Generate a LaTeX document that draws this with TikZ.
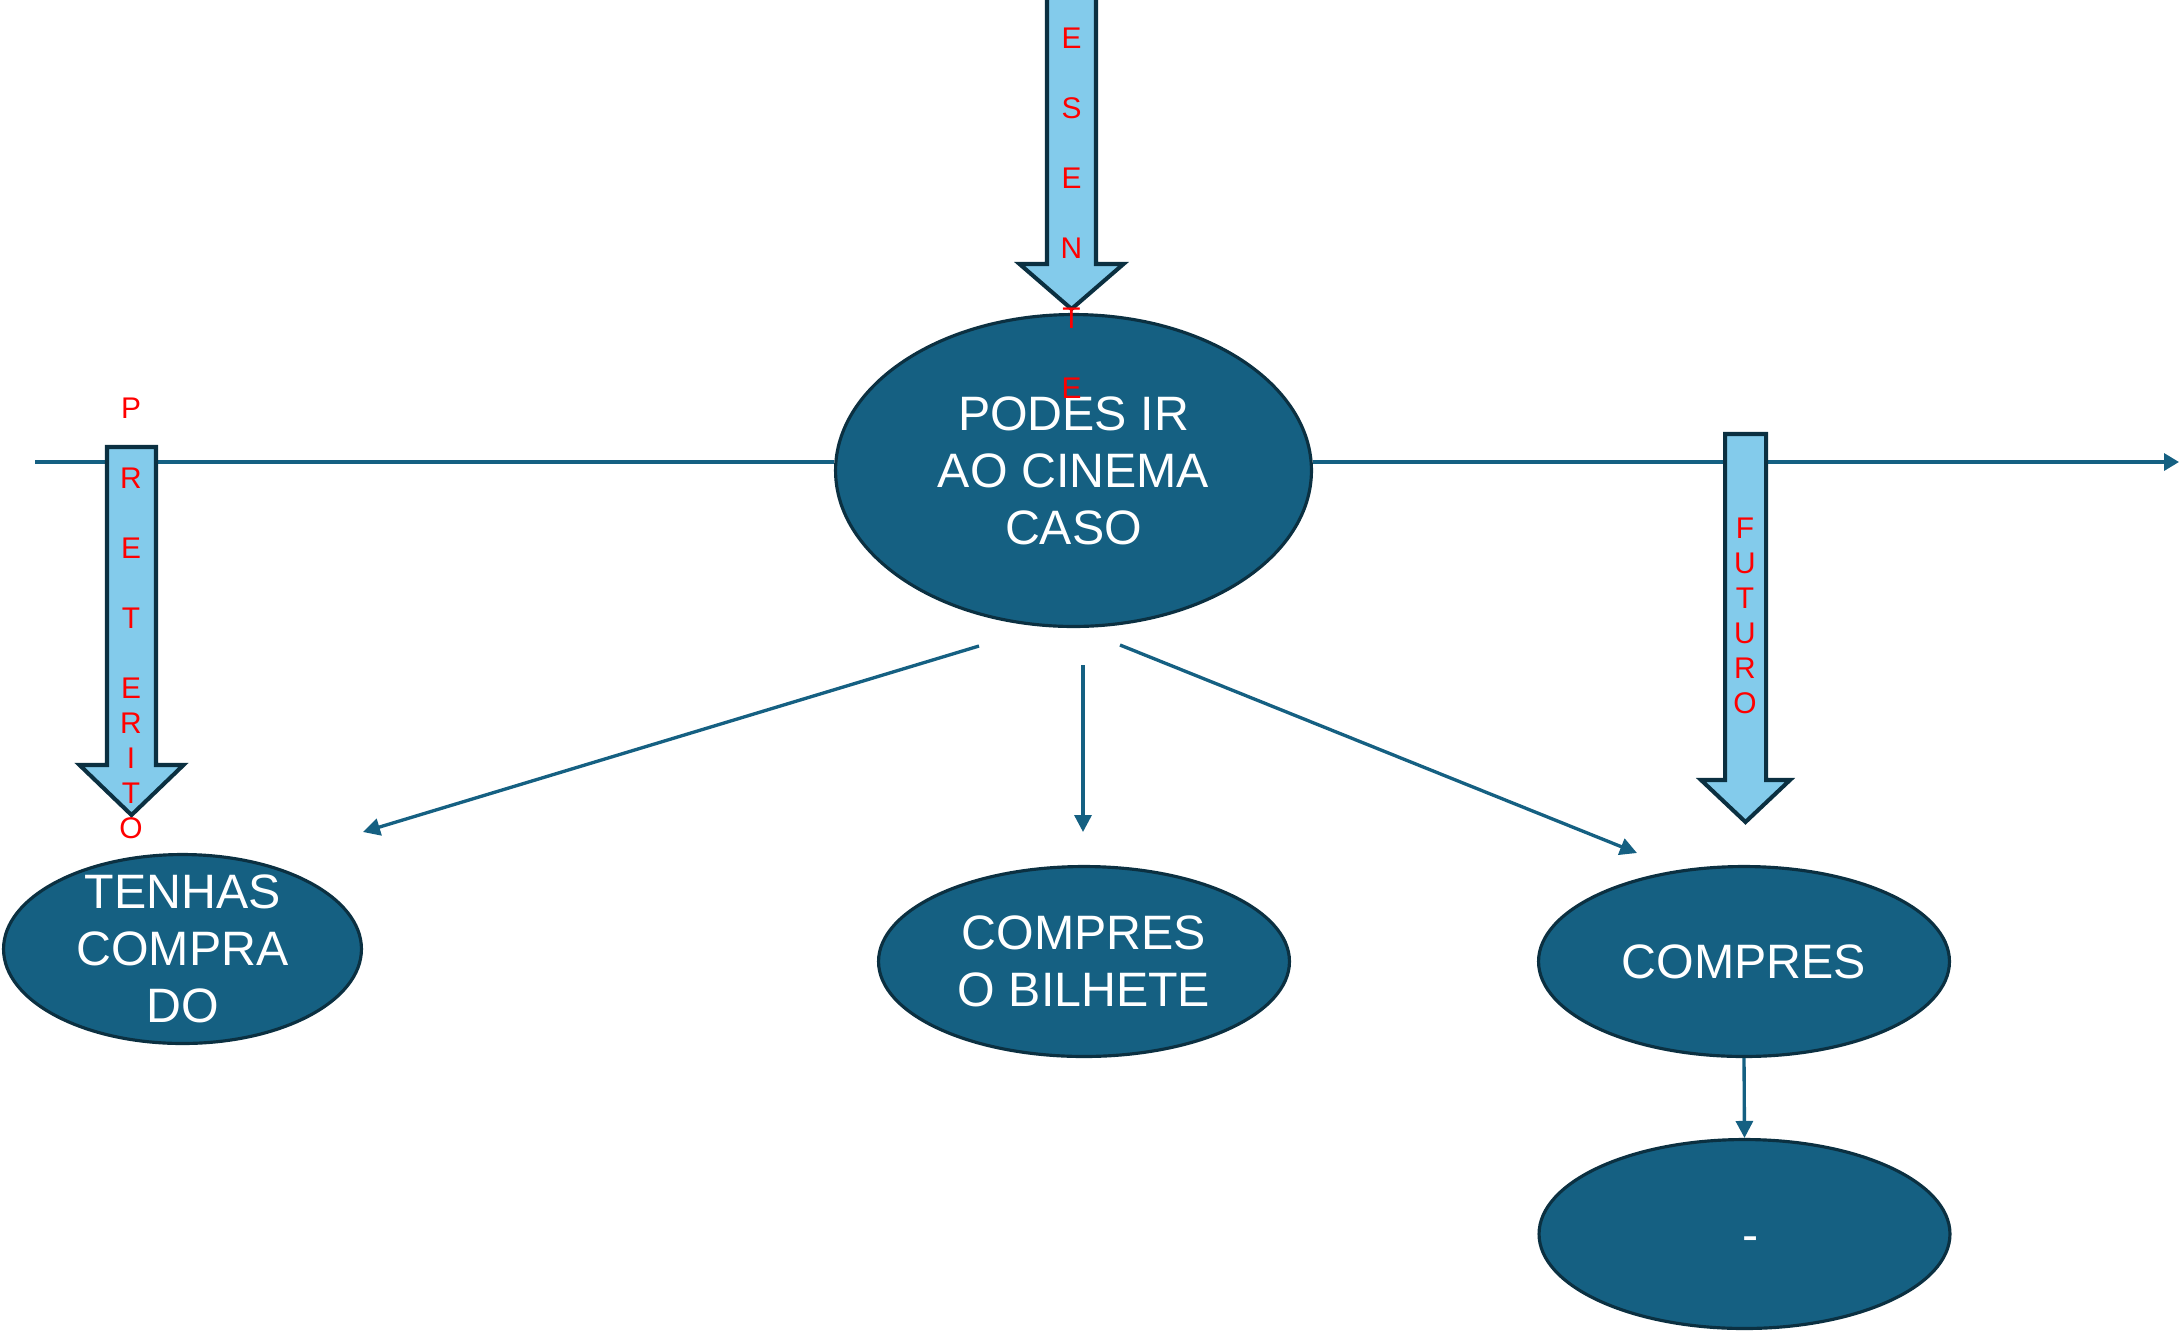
\documentclass[tikz,border=0pt]{standalone}
\usepackage{fontspec}
\setmainfont{Liberation Sans}
\usepackage{tikz}
\usetikzlibrary{arrows.meta,shapes.geometric}

\definecolor{bubblefill}{HTML}{156082}
\definecolor{bubbleline}{HTML}{0B3041}
\definecolor{timefill}{HTML}{83CBEB}
\definecolor{timered}{HTML}{FF0000}

\tikzset{
  bubble/.style={draw=bubbleline, line width=1.8pt, fill=bubblefill, ellipse, inner sep=0pt},
  bubbletext/.style={text=white, font=\fontsize{27.5}{32.4}\selectfont, align=center, inner sep=0pt},
  timeline/.style={draw=bubblefill, line width=1.9pt},
  link/.style={draw=bubblefill, line width=1.9pt, -{Triangle[length=0.34cm,width=0.34cm]}},
  timearrow/.style={draw=bubbleline, line width=2.3pt, fill=timefill, line join=miter},
  letter/.style={text=timered, font=\fontsize{17}{20}\selectfont, inner sep=0pt},
}

\begin{document}
\begin{tikzpicture}[x=0.02cm, y=-0.02cm]
\useasboundingbox (0,0) rectangle (2183,1333);

% Nodes
\node[bubble, minimum width=9.52cm, minimum height=6.24cm,
  label={[bubbletext]center:PODES IR\\AO CINEMA\\CASO}] (main) at (1073.5,470.5) {};
\node[bubble, minimum width=7.16cm, minimum height=3.78cm,
  label={[bubbletext]center:TENHAS\\COMPRA\\DO}] (tenhas) at (182.5,949) {};
\node[bubble, minimum width=8.22cm, minimum height=3.8cm,
  label={[bubbletext]center:COMPRES\\O BILHETE}] (bilhete) at (1084,961.5) {};
\node[bubble, minimum width=8.22cm, minimum height=3.8cm,
  label={[bubbletext]center:COMPRES}] (compres) at (1744,961.5) {};
\node[bubble, minimum width=8.22cm, minimum height=3.78cm,
  label={[bubbletext, xshift=0.13cm, yshift=-0.2cm]center:-}] (dash) at (1744.5,1234) {};

% Time line
\coordinate (lineL) at (35,462);
\coordinate (lineR) at (2179,462);
\draw[timeline] (lineL) -- (lineL -| main.west);
\draw[timeline, -{Triangle[length=0.3cm,width=0.34cm]}] (main.east |- lineR) -- (lineR);

% Arrows
\coordinate (toTenhasA) at (979,646);
\coordinate (toTenhasB) at (363,832);
\coordinate (toBilheteA) at (1083,665);
\coordinate (toBilheteB) at (1083,832);
\coordinate (toCompresA) at (1120,645);
\coordinate (toCompresB) at (1637,853);
\draw[link] (toTenhasA) -- (toTenhasB);
\draw[link] (toBilheteA) -- (toBilheteB);
\draw[link] (toCompresA) -- (toCompresB);
\draw[link] (compres.south) -- (dash.north);

% Block arrows
\draw[timearrow] (1047,-10) -- (1047,264) -- (1019.5,264) -- (1071.5,309)
  -- (1123.5,264) -- (1096,264) -- (1096,-10);
\draw[timearrow] (107,447) -- (107,765) -- (79.5,765) -- (131.5,815)
  -- (183.5,765) -- (156,765) -- (156,447) -- cycle;
\draw[timearrow] (1725,434) -- (1725,780) -- (1701,780) -- (1745.5,822)
  -- (1790,780) -- (1766,780) -- (1766,434) -- cycle;

% Letters
\foreach \ch/\yy [count=\i] in {E/38, S/108, E/178, N/248, T/318, E/388}
  \node[letter] (pres\i) at (1071.5,\yy) {\ch};
\foreach \ch/\yy [count=\i] in {P/408, R/478, E/548, T/618, E/688, R/723, I/758, T/793, O/828}
  \node[letter] (pret\i) at (131,\yy) {\ch};
\foreach \ch/\yy [count=\i] in {F/528, U/563, T/598, U/633, R/668, O/703}
  \node[letter] (fut\i) at (1745,\yy) {\ch};

\end{tikzpicture}
\end{document}
